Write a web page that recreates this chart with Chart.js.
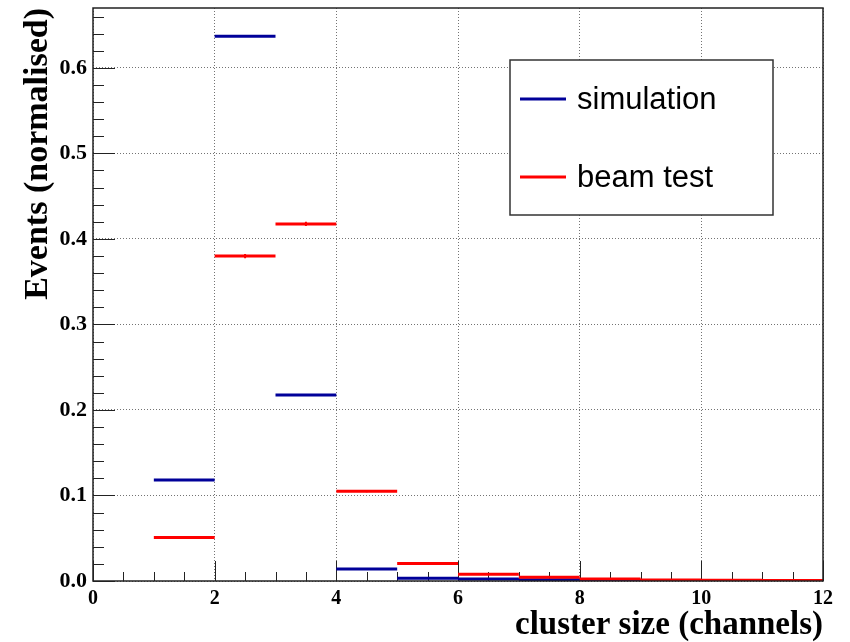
<!DOCTYPE html>
<html><head><meta charset="utf-8">
<style>html,body{margin:0;padding:0;background:#fff}#wrap{width:850px;height:642px}</style>
<script src="https://cdn.jsdelivr.net/npm/chart.js@4/dist/chart.umd.min.js"></script>
</head><body><div id="wrap"><canvas id="c" width="850" height="642"></canvas></div>
<script>
// ---- data ----
const binLow  = [1, 2, 3, 4, 5, 6, 7, 8, 9, 10, 11];
const binHigh = [2, 3, 4, 5, 6, 7, 8, 9, 10, 11, 12];
const simulation  = [0.118, 0.637, 0.2175, 0.014, 0.0032, 0.0022, 0.0015, 0.0005, 0.0003, 0.0003, null];
const beamTest    = [0.051, 0.380, 0.4175, 0.105, 0.0205, 0.0078, 0.0043, 0.0023, 0.0012, 0.0010, 0.0007];
const beamTestErr = [0.0015, 0.0025, 0.0025, 0.0012, 0.0006, 0.0003, 0.0002, 0.0002, 0.0001, 0.0001, 0.0001];
const xTicks = [0, 2, 4, 6, 8, 10, 12];
const yTicks = [0.0, 0.1, 0.2, 0.3, 0.4, 0.5, 0.6];
const seriesNames = ['simulation', 'beam test'];
const xTitle = 'cluster size (channels)';
const yTitle = 'Events (normalised)';

const BLUE = '#000099', RED = '#ff0000';
const SERIF = '"Liberation Serif", "Times New Roman", serif';

function steps(vals) {
  const pts = [];
  vals.forEach((v, i) => {
    if (v == null) return;
    pts.push({x: binLow[i], y: v}, {x: binHigh[i], y: v}, {x: binHigh[i], y: null});
  });
  return pts;
}

const rootAxes = {
  id: 'rootAxes',
  beforeDatasetsDraw(chart) {
    const {ctx, chartArea: a, scales: {x, y}} = chart;
    ctx.save();
    ctx.strokeStyle = '#222';
    ctx.lineWidth = 1;
    ctx.beginPath();
    for (let v = 0; v <= 12.0001; v += 0.5) {
      const px = Math.round(x.getPixelForValue(v)) + 0.5;
      const len = (Math.abs(v / 2 - Math.round(v / 2)) < 1e-6) ? 20 : 9;
      ctx.moveTo(px, a.bottom); ctx.lineTo(px, a.bottom - len);
    }
    for (let k = 0; k <= 33; k++) {
      const v = k * 0.02;
      const py = Math.round(y.getPixelForValue(v)) + 0.5;
      if (py < a.top) break;
      const len = (k % 5 === 0) ? 22 : 11;
      ctx.moveTo(a.left, py); ctx.lineTo(a.left + len, py);
    }
    ctx.stroke();
    ctx.restore();
  },
  afterDatasetsDraw(chart) {
    const {ctx, chartArea: a, scales: {x, y}} = chart;
    ctx.save();
    // error bars on beam test
    ctx.strokeStyle = RED; ctx.lineWidth = 2;
    ctx.beginPath();
    beamTest.forEach((v, i) => {
      if (v == null) return;
      const cx = x.getPixelForValue((binLow[i] + binHigh[i]) / 2);
      ctx.moveTo(cx, y.getPixelForValue(v - beamTestErr[i]));
      ctx.lineTo(cx, y.getPixelForValue(v + beamTestErr[i]));
    });
    ctx.stroke();
    // frame
    ctx.strokeStyle = '#222'; ctx.lineWidth = 1.5;
    ctx.strokeRect(a.left, a.top, a.right - a.left, a.bottom - a.top);
    // legend
    const L = 510, T = 60, R = 773, B = 215;
    ctx.fillStyle = '#fff';
    ctx.fillRect(L, T, R - L, B - T);
    ctx.strokeStyle = '#333'; ctx.lineWidth = 1.5;
    ctx.strokeRect(L, T, R - L, B - T);
    const rows = [{y: 99, c: BLUE, t: seriesNames[0]}, {y: 177, c: RED, t: seriesNames[1]}];
    ctx.font = '31px "Liberation Sans", Arial, sans-serif';
    ctx.textBaseline = 'middle';
    ctx.textAlign = 'left';
    rows.forEach(r => {
      ctx.strokeStyle = r.c; ctx.lineWidth = 3;
      ctx.beginPath(); ctx.moveTo(520, r.y); ctx.lineTo(566, r.y); ctx.stroke();
      ctx.fillStyle = '#000';
      ctx.fillText(r.t, 577, r.y + 1);
    });
    ctx.restore();
  }
};

new Chart(document.getElementById('c'), {
  type: 'line',
  data: {
    datasets: [
      {label: seriesNames[0], data: steps(simulation), borderColor: BLUE, borderWidth: 3, pointRadius: 0, spanGaps: false, order: 2},
      {label: seriesNames[1], data: steps(beamTest), borderColor: RED, borderWidth: 3, pointRadius: 0, spanGaps: false, order: 1}
    ]
  },
  options: {
    responsive: false, animation: false, devicePixelRatio: 1,
    layout: {padding: {top: 0, right: 27, left: 0, bottom: 0}},
    plugins: {legend: {display: false}, tooltip: {enabled: false}},
    scales: {
      x: {
        type: 'linear', min: 0, max: 12,
        afterBuildTicks: s => { s.ticks = xTicks.map(v => ({value: v})); },
        afterFit: s => { s.height = 61; s.paddingLeft = 0; s.paddingRight = 0; },
        grid: {color: 'rgba(0,0,0,0.55)', lineWidth: 1, drawTicks: false},
        border: {display: false, dash: [1, 2]},
        ticks: {color: '#000', padding: 6, maxRotation: 0, autoSkip: false,
          font: {family: SERIF, weight: 'bold', size: 20},
          callback: v => String(v)},
        title: {display: true, text: xTitle, align: 'end', color: '#000',
          font: {family: SERIF, weight: 'bold', size: 33, lineHeight: 1.0},
          padding: {top: 0, bottom: 0}}
      },
      y: {
        type: 'linear', min: 0, max: 0.67,
        afterBuildTicks: s => { s.ticks = yTicks.map(v => ({value: v})); },
        afterFit: s => { s.width = 93; s.paddingTop = 8; s.paddingBottom = 0; },
        grid: {color: 'rgba(0,0,0,0.55)', lineWidth: 1, drawTicks: false},
        border: {display: false, dash: [1, 2]},
        ticks: {color: '#000', padding: 6,
          font: {family: SERIF, weight: 'bold', size: 22},
          callback: v => v.toFixed(1)},
        title: {display: true, text: yTitle, align: 'end', color: '#000',
          font: {family: SERIF, weight: 'bold', size: 34, lineHeight: 1.0},
          padding: {top: 21, bottom: 0}}
      }
    }
  },
  plugins: [rootAxes]
});
</script>
</body></html>
